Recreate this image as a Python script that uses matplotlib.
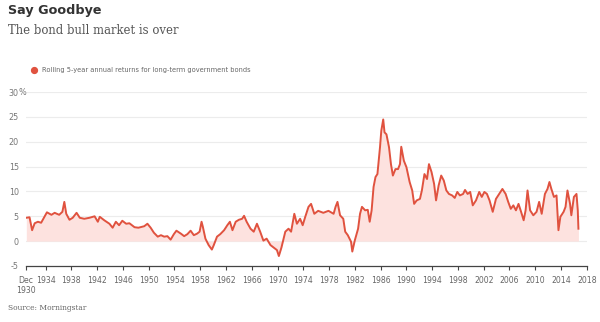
import matplotlib
matplotlib.use("Agg")
import matplotlib.pyplot as plt
import numpy as np

# ---- data ----
years = [1931.0, 1931.5, 1931.9, 1932.3, 1932.8, 1933.3, 1933.85, 1934.2, 1934.9, 1935.4,
         1936.1, 1936.6, 1936.9, 1937.2, 1937.7, 1938.2, 1938.8, 1939.3, 1940.0, 1940.8,
         1941.6, 1942.1, 1942.4, 1943.1, 1943.9, 1944.4, 1944.9, 1945.4, 1945.9, 1946.5,
         1947.0, 1947.8, 1948.4, 1949.3, 1949.8, 1950.3, 1950.8, 1951.4, 1951.9, 1952.4,
         1952.9, 1953.4, 1953.9, 1954.3, 1955.0, 1955.5, 1956.0, 1956.5, 1957.0, 1957.5,
         1957.9, 1958.2, 1958.4, 1958.8, 1959.3, 1959.8, 1960.1, 1960.6, 1961.1, 1961.7,
         1962.2, 1962.6, 1963.0, 1963.5, 1964.0, 1964.5, 1964.8, 1965.2, 1965.8, 1966.3,
         1966.8, 1967.3, 1967.8, 1968.3, 1968.9, 1969.4, 1969.9, 1970.2, 1970.6, 1971.2,
         1971.7, 1972.1, 1972.6, 1973.0, 1973.5, 1973.9, 1974.3, 1974.8, 1975.2, 1975.7,
         1976.3, 1977.1, 1977.9, 1978.7, 1979.0, 1979.3, 1979.7, 1980.2, 1980.5, 1980.9,
         1981.4, 1981.6, 1982.0, 1982.5, 1982.8, 1983.1, 1983.6, 1984.0, 1984.3, 1984.6,
         1984.9, 1985.2, 1985.5, 1985.9, 1986.1, 1986.4, 1986.6, 1986.9, 1987.3, 1987.6,
         1987.9, 1988.3, 1988.7, 1989.0, 1989.2, 1989.6, 1990.0, 1990.5, 1990.9, 1991.2,
         1991.6, 1992.1, 1992.4, 1992.8, 1993.2, 1993.5, 1993.9, 1994.3, 1994.6, 1995.0,
         1995.4, 1995.8, 1996.2, 1996.6, 1997.1, 1997.5, 1997.9, 1998.3, 1998.8, 1999.1,
         1999.5, 1999.9, 2000.3, 2000.8, 2001.3, 2001.7, 2002.1, 2002.5, 2002.9, 2003.4,
         2003.9, 2004.4, 2004.9, 2005.4, 2005.8, 2006.2, 2006.6, 2007.0, 2007.4, 2007.8,
         2008.2, 2008.5, 2008.8, 2009.2, 2009.7, 2010.2, 2010.6, 2011.0, 2011.5, 2011.9,
         2012.2, 2012.5, 2012.9, 2013.3, 2013.6, 2013.9, 2014.4, 2014.7, 2015.0, 2015.4,
         2015.6, 2016.0, 2016.4, 2016.6, 2016.7]
returns = [4.7, 4.8, 2.2, 3.6, 3.9, 3.7, 5.0, 5.8, 5.3, 5.7,
           5.3, 5.9, 7.9, 5.5, 4.3, 4.7, 5.7, 4.7, 4.5, 4.7,
           5.0, 3.9, 4.9, 4.2, 3.5, 2.7, 3.9, 3.2, 4.1, 3.5,
           3.6, 2.8, 2.7, 3.0, 3.5, 2.7, 1.7, 0.9, 1.2, 0.9,
           1.0, 0.3, 1.4, 2.1, 1.5, 1.0, 1.4, 2.1, 1.2, 1.5,
           1.9, 3.9, 2.9, 0.5, -0.8, -1.7, -0.8, 0.9, 1.4, 2.2,
           3.2, 3.9, 2.2, 3.9, 4.3, 4.5, 5.1, 3.9, 2.5, 1.9,
           3.5, 1.9, 0.1, 0.5, -0.8, -1.3, -1.8, -3.0, -1.3, 1.9,
           2.5, 1.9, 5.5, 3.5, 4.5, 3.2, 4.9, 6.9, 7.5, 5.5,
           6.1, 5.7, 6.1, 5.5, 6.9, 7.9, 5.2, 4.5, 1.9, 1.2,
           -0.1, -2.1, 0.2, 2.5, 5.5, 6.9, 6.2, 6.3, 3.9, 6.2,
           10.9, 12.9, 13.5, 18.9, 22.2, 24.5, 21.9, 21.5, 18.9, 15.5,
           13.2, 14.5, 14.5, 15.5, 19.0, 16.2, 14.9, 11.9, 10.2, 7.5,
           8.2, 8.5, 10.2, 13.5, 12.5, 15.5, 13.9, 11.5, 8.2, 11.2,
           13.2, 12.2, 10.2, 9.5, 9.2, 8.7, 9.9, 9.2, 9.5, 10.3,
           9.5, 9.9, 7.2, 8.2, 9.9, 8.9, 9.9, 9.5, 8.2, 5.9,
           8.5, 9.5, 10.5, 9.5, 7.9, 6.5, 7.2, 6.2, 7.5, 5.9,
           4.2, 6.2, 10.2, 6.2, 5.2, 5.9, 7.9, 5.5, 9.5, 10.5,
           11.9, 10.5, 8.9, 9.2, 2.2, 4.9, 5.9, 6.9, 10.2, 7.5,
           5.2, 8.9, 9.5, 6.2, 2.5]
tick_years = [1930.92] + list(range(1934, 2019, 4))
tick_labels = ["Dec\n1930"] + [str(y) for y in range(1934, 2019, 4)]
y_ticks = [-5, 0, 5, 10, 15, 20, 25, 30]
y_labels = ["-5", "0", "5", "10", "15", "20", "25", "30"]

LINE = "#e0523f"
FILL = "#fde2df"

fig = plt.figure(figsize=(6.0, 3.22), dpi=100)
fig.patch.set_facecolor("white")
ax = fig.add_axes([0.043, 0.174, 0.935, 0.540])

ax.fill_between(years, returns, 0, color=FILL, linewidth=0, zorder=1)
ax.plot(years, returns, color=LINE, linewidth=1.4, zorder=3, solid_joinstyle="round")

ax.set_xlim(1930.92, 2018.0)
ax.set_ylim(-5, 30)
for v in y_ticks[1:]:
    ax.axhline(v, color="#ececec", linewidth=0.8, zorder=0)

for s in ["top", "right", "left"]:
    ax.spines[s].set_visible(False)
ax.spines["bottom"].set_color("#444444")
ax.spines["bottom"].set_linewidth(0.9)

ax.set_xticks(tick_years)
ax.set_xticklabels(tick_labels, fontsize=5.6, color="#666666", family="DejaVu Sans")
ax.tick_params(axis="x", direction="out", length=3, width=0.8, color="#444444", pad=4)

ax.set_yticks(y_ticks)
ax.set_yticklabels(y_labels, fontsize=5.8, color="#777777")
ax.tick_params(axis="y", length=0, pad=5)
ax.text(-0.0, 30, "%", transform=ax.get_yaxis_transform(), fontsize=5.8, color="#777777",
        ha="right", va="center")

fig.text(0.013, 0.968, "Say Goodbye", fontsize=9.2, fontweight="bold", color="#333333",
         ha="left", va="center", family="DejaVu Sans")
fig.text(0.013, 0.905, "The bond bull market is over", fontsize=8.4, color="#555555",
         ha="left", va="center", family="DejaVu Serif")

fig.add_artist(plt.Line2D([0.057], [1 - 70 / 322], marker="o", markersize=4.2,
                          color=LINE, linestyle="none", transform=fig.transFigure))
fig.text(0.070, 1 - 70 / 322, "Rolling 5-year annual returns for long-term government bonds",
         fontsize=4.8, color="#666666", ha="left", va="center")

fig.text(0.013, 1 - 308 / 322, "Source: Morningstar", fontsize=5.4, color="#666666",
         ha="left", va="center", family="DejaVu Serif")

fig.savefig("out.png", dpi=100, facecolor="white")
